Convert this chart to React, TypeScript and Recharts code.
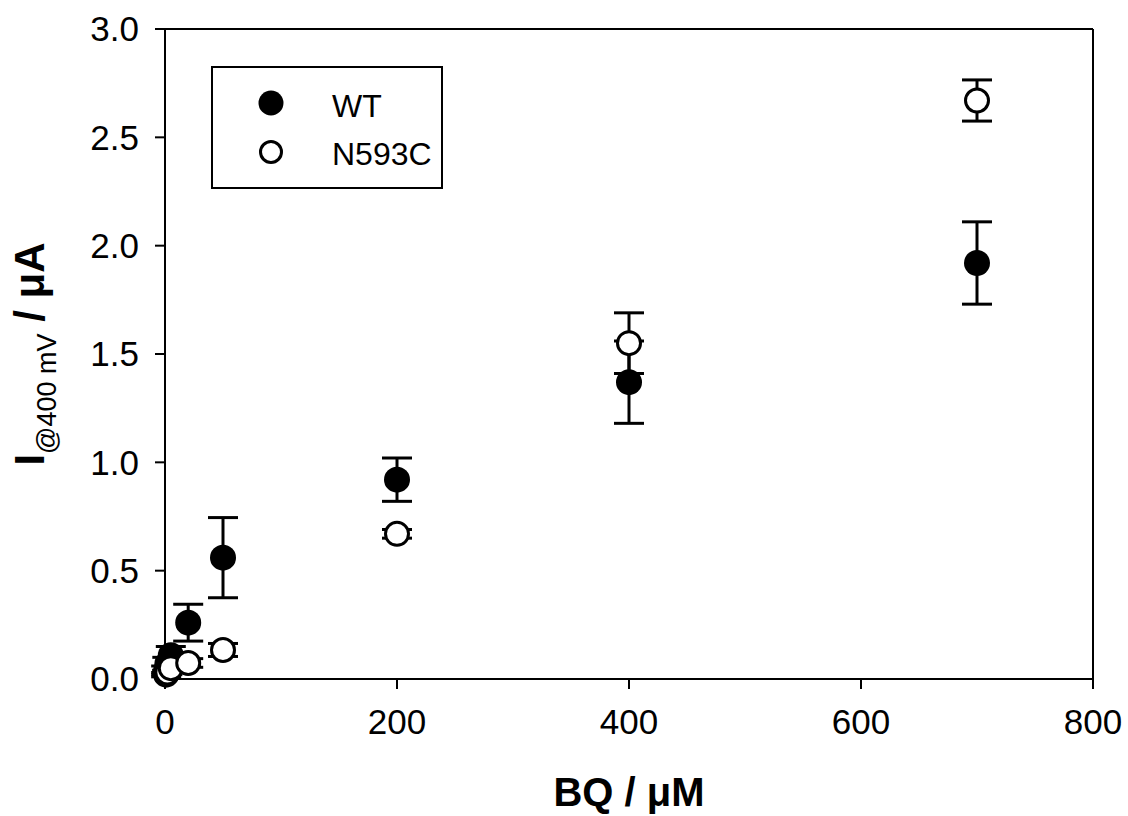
import {
  ScatterChart,
  Scatter,
  XAxis,
  YAxis,
  ErrorBar,
  ReferenceLine,
} from "recharts";

const bqWT = [1, 2, 5, 20, 50, 200, 400, 700];
const currentWT = [0.04, 0.07, 0.11, 0.26, 0.56, 0.92, 1.37, 1.92];
const errWT = [0.02, 0.03, 0.04, 0.085, 0.185, 0.1, 0.19, 0.19];

const bqN593C = [1, 2, 5, 20, 50, 200, 400, 700];
const currentN593C = [0.02, 0.03, 0.05, 0.074, 0.134, 0.67, 1.55, 2.67];
const errN593C = [0.01, 0.01, 0.02, 0.02, 0.03, 0.02, 0.14, 0.095];

const xTicks = [0, 200, 400, 600, 800];
const yTicks = [0, 0.5, 1, 1.5, 2, 2.5, 3];

const FONT = "Arial, 'Liberation Sans', sans-serif";

function toRows(xs: number[], ys: number[], errs: number[]) {
  return xs.map((x, i) => ({ x, y: ys[i], err: errs[i] }));
}

const wtData = toRows(bqWT, currentWT, errWT);
const n593cData = toRows(bqN593C, currentN593C, errN593C);

function FilledDot(props: any) {
  const { cx, cy } = props;
  return <circle cx={cx} cy={cy} r={13} fill="#000" />;
}

function OpenDot(props: any) {
  const { cx, cy } = props;
  return <circle cx={cx} cy={cy} r={11.5} fill="#fff" stroke="#000" strokeWidth={3} />;
}

// legend box drawn over the plot, SigmaPlot style
function LegendBox() {
  return (
    <svg
      width={240}
      height={130}
      style={{ position: "absolute", left: 210, top: 65 }}
    >
      <rect x={2} y={2} width={230} height={121} fill="#fff" stroke="#000" strokeWidth={2} />
      <circle cx={61} cy={38} r={12.5} fill="#000" />
      <circle cx={61} cy={87} r={10.5} fill="#fff" stroke="#000" strokeWidth={3} />
      <text x={122} y={52} fontFamily={FONT} fontSize={32} fill="#000">
        WT
      </text>
      <text x={122} y={100} fontFamily={FONT} fontSize={32} fill="#000">
        N593C
      </text>
    </svg>
  );
}

function YTitle(props: any) {
  const { viewBox } = props;
  const cy = viewBox.y + viewBox.height / 2;
  const x = 44;
  return (
    <text
      transform={`translate(${x}, ${cy}) rotate(-90)`}
      textAnchor="middle"
      fontFamily={FONT}
      fontWeight="bold"
      fontSize={42}
      fill="#000"
    >
      I
      <tspan fontSize={27} fontWeight="normal" dy={12}>
        @400 mV
      </tspan>
      <tspan dy={-12}> / μA</tspan>
    </text>
  );
}

export default function App() {
  return (
    <div style={{ position: "absolute", left: 0, top: 0, background: "#fff" }}>
      <ScatterChart
        width={1128}
        height={816}
        margin={{ top: 29, right: 35, bottom: 0, left: 0 }}
      >
        <XAxis
          type="number"
          dataKey="x"
          domain={[0, 800]}
          ticks={xTicks}
          axisLine={{ stroke: "#000", strokeWidth: 2 }}
          tickLine={{ stroke: "#000", strokeWidth: 2 }}
          tickSize={10}
          tickMargin={20}
          tick={{ fill: "#000", fontSize: 35, fontFamily: FONT }}
          height={137}
          label={{
            value: "BQ / μM",
            position: "insideBottom",
            offset: 10,
            fill: "#000",
            fontSize: 40,
            fontWeight: "bold",
            fontFamily: FONT,
          }}
        />
        <YAxis
          type="number"
          dataKey="y"
          domain={[0, 3]}
          ticks={yTicks}
          tickFormatter={(v: number) => v.toFixed(1)}
          axisLine={{ stroke: "#000", strokeWidth: 2 }}
          tickLine={{ stroke: "#000", strokeWidth: 2 }}
          tickSize={10}
          tickMargin={16}
          tick={{ fill: "#000", fontSize: 35, fontFamily: FONT }}
          width={165}
          label={<YTitle />}
        />
        <ReferenceLine y={3} stroke="#000" strokeWidth={2} />
        <ReferenceLine x={800} stroke="#000" strokeWidth={2} />
        <Scatter
          name="WT"
          data={wtData}
          shape={<FilledDot />}
          isAnimationActive={false}
        >
          <ErrorBar
            dataKey="err"
            direction="y"
            width={15}
            stroke="#000"
            strokeWidth={3}
            isAnimationActive={false}
          />
        </Scatter>
        <Scatter
          name="N593C"
          data={n593cData}
          shape={<OpenDot />}
          isAnimationActive={false}
        >
          <ErrorBar
            dataKey="err"
            direction="y"
            width={15}
            stroke="#000"
            strokeWidth={3}
            isAnimationActive={false}
          />
        </Scatter>
      </ScatterChart>
      <LegendBox />
    </div>
  );
}
